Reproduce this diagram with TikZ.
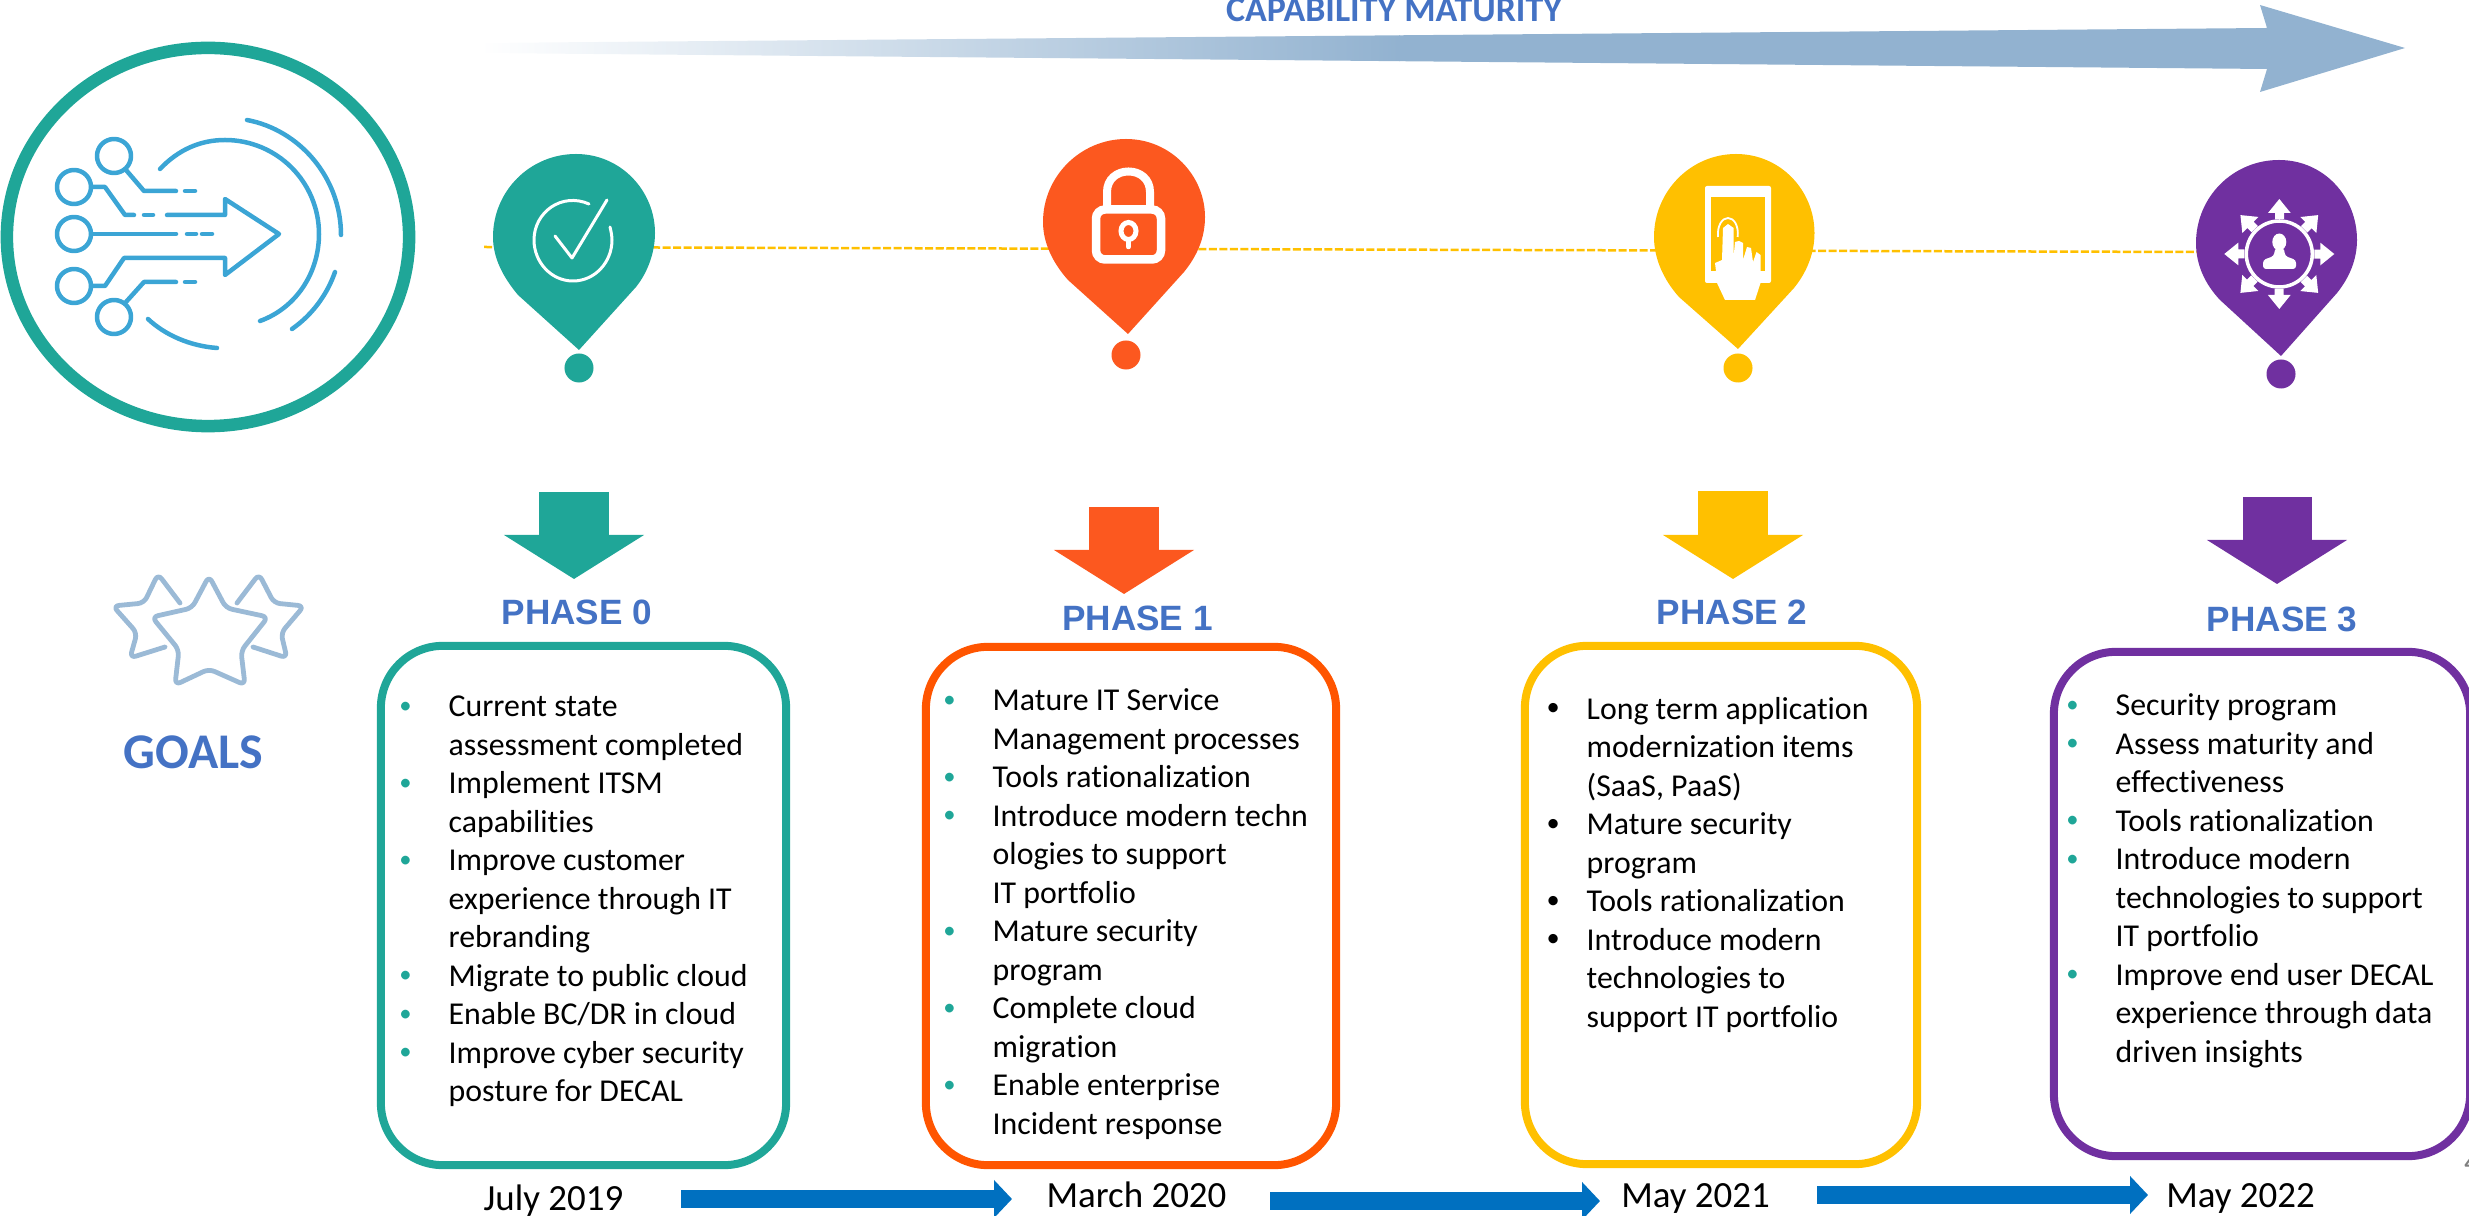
\documentclass[tikz,border=0pt]{standalone}
\usepackage{xcolor}
\usepackage{fontspec}
\setmainfont{Carlito}[Ligatures=NoCommon]
\setsansfont{Liberation Sans}
\usepackage{tikz}
\usetikzlibrary{shapes.geometric, arrows.meta, positioning}

\definecolor{tealp}{HTML}{1FA698}
\definecolor{orangep}{HTML}{FC581F}
\definecolor{orangeb}{HTML}{FF5500}
\definecolor{yellowp}{HTML}{FFC000}
\definecolor{purplep}{HTML}{7030A0}
\definecolor{headblue}{HTML}{4472C4}
\definecolor{flowblue}{HTML}{0070C0}
\definecolor{capblue}{HTML}{92B2D0}
\definecolor{iconblue}{HTML}{3BA5D5}
\definecolor{starblue}{HTML}{9BBAD6}

% teal or black point in front of a list line
\newcommand{\bul}{\strut\llap{\textcolor{tealp}{\raisebox{0.035cm}{\fontsize{7}{8}\selectfont\textbullet}}\hspace{0.37cm}}}
\newcommand{\bulk}{\strut\llap{\raisebox{0.035cm}{\fontsize{7.5}{8}\selectfont\textbullet}\hspace{0.27cm}}}
\newcommand{\spoke}[1]{\fill[white, rotate around={#1:(2279.3,254)}] (2275,219) -- (2275,213) -- (2268,213) -- (2279.3,199) -- (2290.7,213) -- (2284,213) -- (2284,219) -- cycle;}

\begin{document}
\begin{tikzpicture}[x=0.01cm, y=-0.01cm, inner sep=0pt]
    % Styles
    \tikzstyle{hub} = [ellipse, draw=tealp, line width=0.125cm, minimum width=4.02cm, minimum height=3.78cm]
    \tikzstyle{icon} = [draw=iconblue, line width=0.045cm, line cap=round, line join=round]
    \tikzstyle{pindot} = [circle, minimum size=0.29cm]
    \tikzstyle{downarrow} = [line width=0.69cm, -{Triangle[length=0.44cm, width=1.38cm]}]
    \tikzstyle{flowarrow} = [flowblue, line width=0.18cm, -{Triangle[length=0.18cm, width=0.37cm]}]
    \tikzstyle{phasebox} = [rectangle, line width=0.08cm, rounded corners=0.62cm]
    \tikzstyle{phasetitle} = [headblue, font=\fontsize{10}{12}\sffamily\bfseries\selectfont, text height=0.25cm, text depth=0pt]
    \tikzstyle{steps} = [anchor=north west, align=left, font=\fontsize{9.05}{10.95}\selectfont]
    \tikzstyle{datelabel} = [font=\fontsize{10.5}{12}\selectfont, text height=0.27cm, text depth=0.08cm]
    \tikzstyle{star} = [starblue, line width=0.048cm, line cap=round, line join=round, rounded corners=0.06cm]

    \useasboundingbox (0,0) rectangle (2469,1216);

    % Maturity arrow
    \shade[left color=white, right color=capblue] (480,43) -- (1400,35.3) -- (1400,61.2) -- (480,53) -- cycle;
    \fill[capblue] (1399,35.3) -- (2267,28) -- (2260,5) -- (2405,48) -- (2405,48) -- (2260,92) -- (2267,69) -- (1399,61.2) -- cycle;
    \node[headblue, font=\fontsize{10.2}{12}\bfseries\selectfont, anchor=base] (maturity) at (1394,22) {CAPABILITY MATURITY};

    % Timeline behind the pins
    \coordinate (linestart) at (484,247);
    \coordinate (lineend) at (2200,252);
    \draw[yellowp, line width=0.025cm, dash pattern=on 0.08cm off 0.025cm] (linestart) -- (lineend);

    % Hub
    \node[hub] (hub) at (208,237) {};
    \draw[icon] (114,156) circle (17);
    \draw[icon] (74,187) circle (17);
    \draw[icon] (74,234) circle (17);
    \draw[icon] (74,286) circle (17);
    \draw[icon] (114,317) circle (17);
    \draw[icon] (126,170) -- (144,191) -- (176,191);
    \draw[icon] (185,191) -- (195,191);
    \draw[icon] (92,187) -- (105,187) -- (125,215) -- (134,215);
    \draw[icon] (144,215) -- (153,215);
    \draw[icon] (167,215) -- (225,215) -- (225,199) -- (279,234) -- (225,275) -- (225,258) -- (124,258) -- (105,286) -- (92,286);
    \draw[icon] (92,234) -- (176,234);
    \draw[icon] (187,234) -- (196,234);
    \draw[icon] (202,234) -- (212,234);
    \draw[icon] (126,302) -- (144,282) -- (176,282);
    \draw[icon] (185,282) -- (195,282);
    \draw[icon] (160,169) .. controls (178,150) and (200,140) .. (225,140) .. controls (277,140) and (319,182) .. (319,234) .. controls (319,273) and (296,308) .. (260,321);
    \draw[icon] (247,120) .. controls (300,130) and (341,178) .. (341,235);
    \draw[icon] (335,272) .. controls (327,295) and (312,315) .. (292,329);
    \draw[icon] (148,319) .. controls (165,335) and (190,346) .. (217,348);

    % Pin 0
    \fill[tealp] (579,350) -- (518,295) .. controls (503,277) and (493,258) .. (493,237) .. controls (493,191) and (530,154) .. (576,154) .. controls (621,154) and (655,191) .. (655,233) .. controls (655,252) and (648,272) .. (636,287) -- cycle;
    \node[pindot, fill=tealp] (dot0) at (579,368) {};
    \draw[white, line width=0.03cm, line cap=round] (589,204) .. controls (562,192) and (534,212) .. (534,240) .. controls (534,262) and (551,281) .. (573,281) .. controls (595,281) and (612,262) .. (612,240) .. controls (612,236) and (611,231) .. (610,227);
    \draw[white, line width=0.03cm, line cap=round, line join=round] (555,236) -- (572,258) -- (607,200);

    % Pin 1
    \fill[orangep] (1128,334) -- (1068,280) .. controls (1052,262) and (1043,242) .. (1043,222) .. controls (1043,176) and (1081,139) .. (1126,139) .. controls (1171,139) and (1205,176) .. (1205,217) .. controls (1205,238) and (1197,256) .. (1184,272) -- cycle;
    \node[pindot, fill=orangep] (dot1) at (1126,355) {};
    \draw[white, line width=0.085cm, rounded corners=0.09cm] (1096,209.5) rectangle (1161,259.5);
    \draw[white, line width=0.08cm] (1107,206) -- (1107,192) .. controls (1107,179) and (1117,171.5) .. (1128.5,171.5) .. controls (1140,171.5) and (1150,179) .. (1150,192) -- (1150,206);
    \draw[white, line width=0.05cm] (1128.5,231) ellipse [x radius=7.5, y radius=8.5];
    \draw[white, line width=0.045cm, line cap=round] (1128.5,240) -- (1128.5,247);

    % Pin 2
    \fill[yellowp] (1738,349) -- (1679,297) .. controls (1663,279) and (1654,258) .. (1654,237) .. controls (1654,191) and (1691,154) .. (1736,154) .. controls (1781,154) and (1814.5,191) .. (1814.5,233) .. controls (1814.5,253) and (1807,272) .. (1794,288) -- cycle;
    \node[pindot, fill=yellowp] (dot2) at (1738,368) {};
    \fill[white, rounded corners=0.02cm] (1705,186) rectangle (1771,283);
    \fill[yellowp] (1711,197) rectangle (1765,271);
    \fill[white] (1716,271) -- (1715,263) -- (1722,260) -- (1723,228) -- (1728,224) -- (1733.6,228) -- (1733.6,257) -- (1735,242) -- (1739,241) -- (1743,243) -- (1743,260) -- (1747,247) -- (1751,248) -- (1753,262) -- (1756.5,252) -- (1760.5,255) -- (1760.5,283) -- (1755,300) -- (1725,300) -- (1717,283) -- cycle;
    \draw[white, line width=0.018cm] (1718,237) .. controls (1717,226) and (1722,218) .. (1728,218) .. controls (1734,218) and (1739,226) .. (1737.6,237);

    % Pin 3
    \fill[purplep] (2281,356) -- (2220,300) .. controls (2205,284) and (2196,265) .. (2196,243) .. controls (2196,197) and (2233,160) .. (2279,160) .. controls (2324,160) and (2357,197) .. (2357,240) .. controls (2357,260) and (2349,278) .. (2337,293) -- cycle;
    \node[pindot, fill=purplep] (dot3) at (2281,374) {};
    \draw[white, line width=0.035cm] (2279.3,254) circle (33);
    \spoke{0} \spoke{45} \spoke{90} \spoke{135} \spoke{180} \spoke{225} \spoke{270} \spoke{315}
    \fill[white] (2279.3,242) ellipse [x radius=7, y radius=8.5];
    \fill[white, rounded corners=0.03cm] (2263,269) -- (2263,260) -- (2274,256) -- (2275,248) -- (2284,248) -- (2285,256) -- (2296,260) -- (2296,269) -- cycle;

    % Stars
    \draw[star] (209,576) -- (226,608) -- (268,617) -- (241,651) -- (245,685) -- (209,669) -- (175,685) -- (179,650) -- (152,617) -- (192,608) -- cycle;
    \draw[star] (180,603) -- (158,574) -- (144,603) -- (113,606) -- (137,633) -- (130,658) -- (165,647);
    \draw[star] (237,603) -- (259,574) -- (274,603) -- (304,606) -- (281,633) -- (287,658) -- (253,647);
    \node[headblue, font=\fontsize{14.2}{16}\bfseries\selectfont, anchor=base] (goals) at (193.5,769) {GOALS};

    % Boxes
    \node[phasebox, draw=tealp, minimum width=4.05cm, minimum height=5.19cm] (box0) at (583.5,905.5) {};
    \node[phasebox, draw=orangeb, minimum width=4.10cm, minimum height=5.18cm] (box1) at (1131,906) {};
    \node[phasebox, draw=yellowp, minimum width=3.92cm, minimum height=5.18cm] (box2) at (1721,905) {};
    \node[phasebox, draw=purplep, minimum width=4.16cm, minimum height=5.04cm] (box3) at (2262,904) {};

    % Titles
    \node[phasetitle, above=0.165cm of box0, xshift=-0.065cm] (phase0) {PHASE 0};
    \node[phasetitle, above=0.12cm of box1, xshift=0.065cm] (phase1) {PHASE 1};
    \node[phasetitle, above=0.165cm of box2, xshift=0.11cm] (phase2) {PHASE 2};
    \node[phasetitle, above=0.16cm of box3, xshift=0.20cm] (phase3) {PHASE 3};

    % Lists
    \node[steps] (list0) at (448,689) {\bul Current state\\assessment completed\\\bul Implement ITSM\\capabilities\\\bul Improve customer\\experience through IT\\rebranding\\\bul Migrate to public cloud\\\bul Enable BC/DR in cloud\\\bul Improve cyber security\\posture for DECAL};
    \node[steps] (list1) at (992,683) {\bul Mature IT Service\\Management processes\\\bul Tools rationalization\\\bul Introduce modern techn\\ologies to support\\IT portfolio\\\bul Mature security\\program\\\bul Complete cloud\\migration\\\bul Enable enterprise\\Incident response};
    \node[steps] (list2) at (1586,691.5) {\bulk Long term application\\modernization items\\(SaaS, PaaS)\\\bulk Mature security\\program\\\bulk Tools rationalization\\\bulk Introduce modern\\technologies to\\support IT portfolio};
    \node[steps] (list3) at (2115,688) {\bul Security program\\\bul Assess maturity and\\effectiveness\\\bul Tools rationalization\\\bul Introduce modern\\technologies to support\\IT portfolio\\\bul Improve end user DECAL\\experience through data\\driven insights};

    % Dates
    \node[datelabel, below=0.14cm of box0, xshift=-0.30cm] (july) {July 2019};
    \node[datelabel, below=0.11cm of box1, xshift=0.055cm] (march) {March 2020};
    \node[datelabel, below=0.12cm of box2, xshift=-0.255cm] (may21) {May 2021};
    \node[datelabel, below=0.20cm of box3, xshift=-0.215cm] (may22) {May 2022};
    \node[gray, font=\fontsize{9}{11}\selectfont, anchor=base] (pagenum) at (2472,1172) {4};

    % Phase arrows
    \coordinate (top0) at (574,492);
    \coordinate (tip0) at (574,579);
    \coordinate (top1) at (1124,507);
    \coordinate (tip1) at (1124,594);
    \coordinate (top2) at (1733,491);
    \coordinate (tip2) at (1733,579);
    \coordinate (top3) at (2277,497);
    \coordinate (tip3) at (2277,584);
    \draw[downarrow, tealp] (top0) -- (tip0);
    \draw[downarrow, orangep] (top1) -- (tip1);
    \draw[downarrow, yellowp] (top2) -- (tip2);
    \draw[downarrow, purplep] (top3) -- (tip3);

    % Flow between dates
    \coordinate (flow1a) at (681,1199);
    \coordinate (flow1b) at (1012,1199);
    \coordinate (flow2a) at (1270,1201);
    \coordinate (flow2b) at (1600,1201);
    \coordinate (flow3a) at (1817,1195);
    \coordinate (flow3b) at (2148,1195);
    \draw[flowarrow] (flow1a) -- (flow1b);
    \draw[flowarrow] (flow2a) -- (flow2b);
    \draw[flowarrow] (flow3a) -- (flow3b);

\end{tikzpicture}
\end{document}
